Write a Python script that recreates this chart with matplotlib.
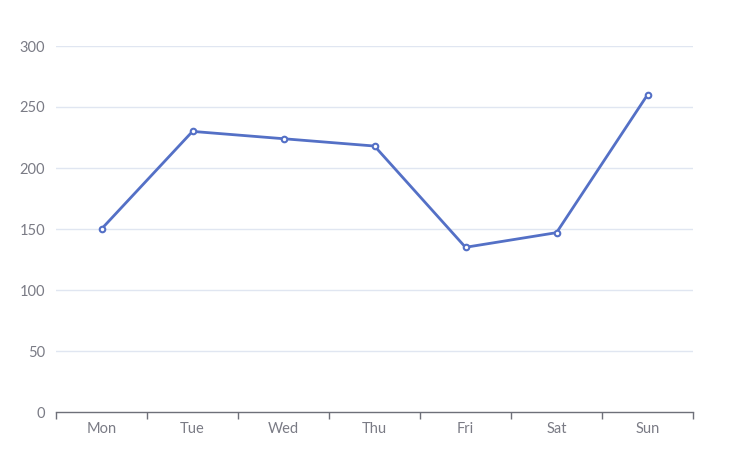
import matplotlib
matplotlib.use("Agg")
import matplotlib.pyplot as plt

categories = ["Mon", "Tue", "Wed", "Thu", "Fri", "Sat", "Sun"]
values = [150, 230, 224, 218, 135, 147, 260]
yticks = [0, 50, 100, 150, 200, 250, 300]

plt.rcParams['font.family'] = ['Lato', 'DejaVu Sans']

W, H = 731, 461
fig = plt.figure(figsize=(W / 100, H / 100), dpi=100)
ax = fig.add_axes([56 / W, (H - 412) / H, (693 - 56) / W, (412 - 46) / H])

x = list(range(len(categories)))
ax.plot(x, values, color="#5470c6", lw=2, marker="o", ms=4,
        mfc="white", mec="#5470c6", mew=1.5, zorder=3, clip_on=False)

ax.set_xlim(-0.5, len(categories) - 0.5)
ax.set_ylim(0, 300)
ax.set_yticks(yticks)
ax.set_yticklabels([str(v) for v in yticks])
for v in yticks[1:]:
    ax.axhline(v, color="#E0E6F1", lw=1, zorder=1)

ax.set_xticks(x)
ax.set_xticklabels(categories)
ax.set_xticks([i - 0.5 for i in range(len(categories) + 1)], minor=True)
ax.tick_params(axis="x", which="major", length=0, pad=7, labelcolor="#7a7b85", labelsize=10.5)
ax.tick_params(axis="x", which="minor", length=5, color="#6E7079", width=1)
ax.tick_params(axis="y", length=0, pad=8, labelcolor="#7a7b85", labelsize=10.5)

for s in ["top", "right", "left"]:
    ax.spines[s].set_visible(False)
ax.spines["bottom"].set_color("#6E7079")
ax.spines["bottom"].set_linewidth(1)

fig.savefig("out.png", dpi=100)
